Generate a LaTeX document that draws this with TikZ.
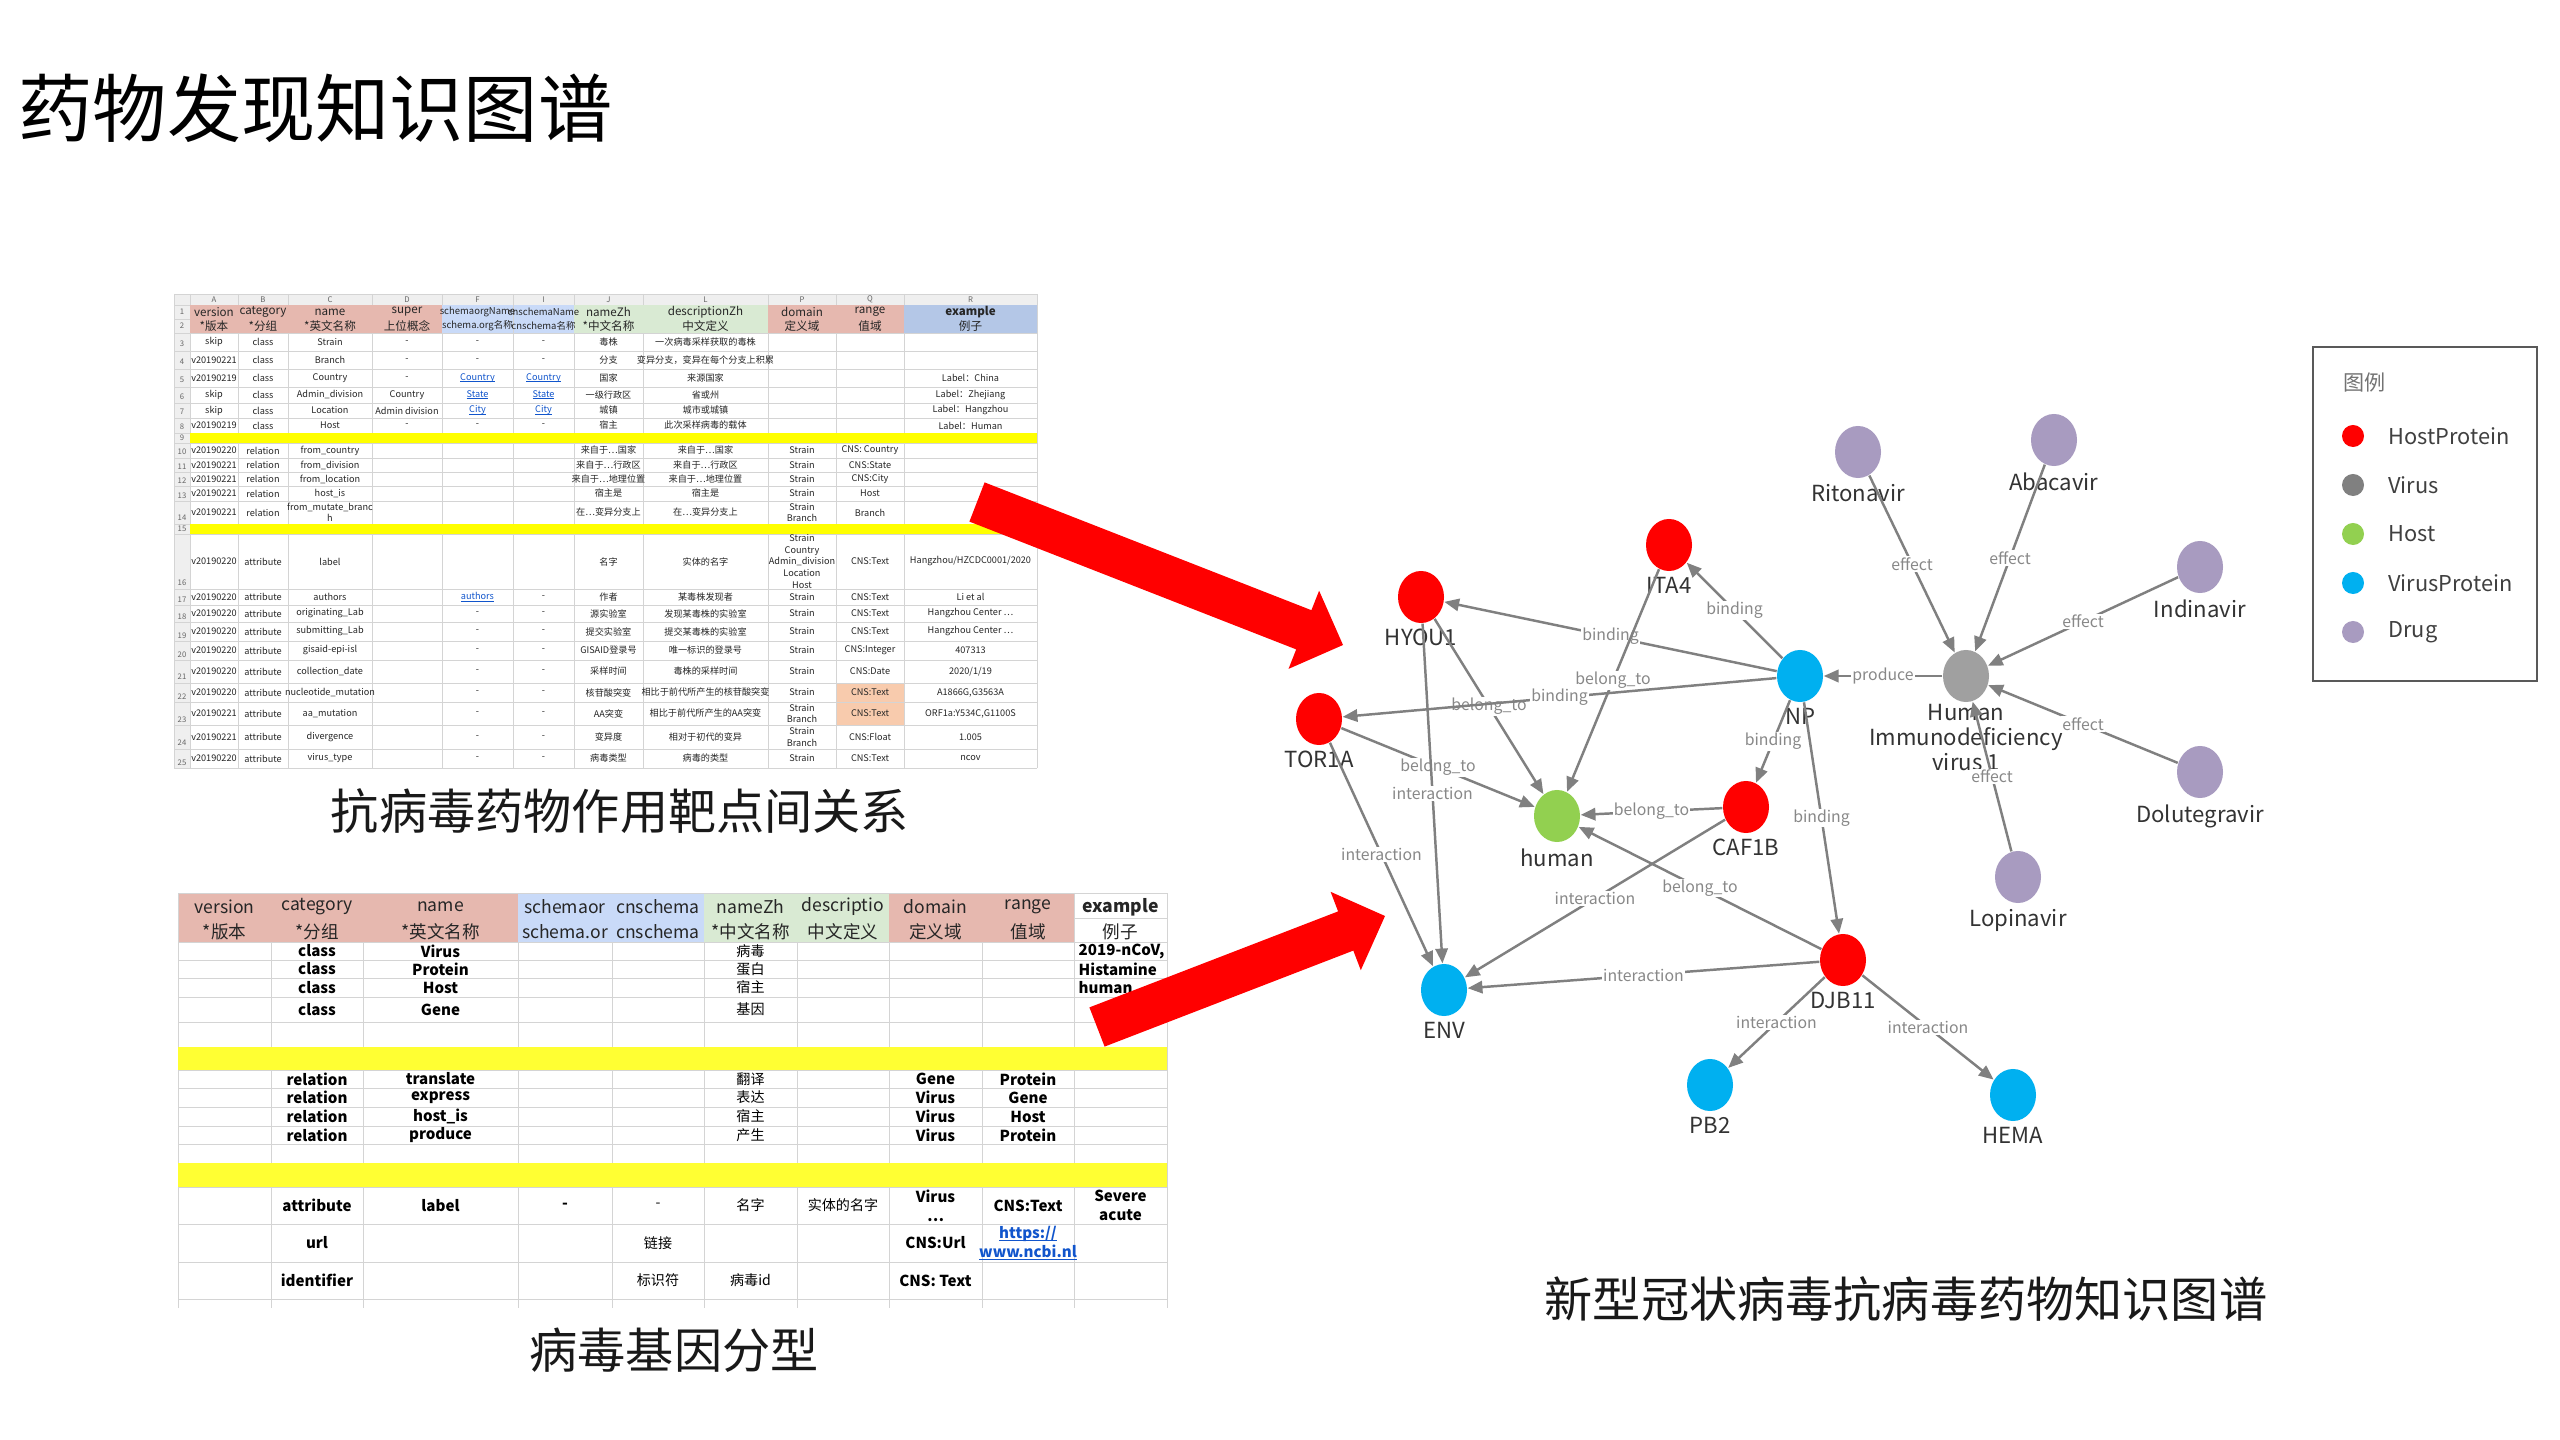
\documentclass[tikz,border=0pt]{standalone}
\usepackage{fontspec}
\setmainfont{Noto Sans CJK SC}
\usepackage{tikz}
\usetikzlibrary{arrows.meta,positioning,shapes.geometric}
\definecolor{hostprot}{RGB}{255,0,0}
\definecolor{virusgray}{RGB}{160,160,160}
\definecolor{virusdot}{RGB}{128,128,128}
\definecolor{hostgreen}{RGB}{146,208,80}
\definecolor{virprot}{RGB}{0,176,240}
\definecolor{drugpurple}{RGB}{168,155,192}
\definecolor{edgegray}{RGB}{128,128,128}
\definecolor{lblgray}{RGB}{136,136,136}
\definecolor{txtgray}{RGB}{51,51,51}
\definecolor{hdrpink}{RGB}{230,184,175}
\definecolor{hdrblue}{RGB}{201,218,248}
\definecolor{hdrgreen}{RGB}{217,234,211}
\definecolor{hdrblue2}{RGB}{180,199,231}
\definecolor{hiorange}{RGB}{248,203,173}
\definecolor{rowyellow}{RGB}{255,255,0}
\definecolor{rowyellow2}{RGB}{255,255,51}
\definecolor{gridgray}{RGB}{212,212,212}
\definecolor{sheetgray}{RGB}{239,239,239}
\definecolor{linkblue}{RGB}{17,85,204}
\definecolor{bigred}{RGB}{255,0,0}
\newcommand{\cellink}[1]{{\color{linkblue}\setbox0\hbox{#1}\rlap{\rule[-0.15em]{\wd0}{0.07em}}\box0}}
\tikzset{
  gnode/.style={ellipse,minimum width=0.46cm,minimum height=0.52cm,inner sep=0pt},
  hp/.style={gnode,fill=hostprot},
  vi/.style={gnode,fill=virusgray},
  ho/.style={gnode,fill=hostgreen},
  vp/.style={gnode,fill=virprot},
  dr/.style={gnode,fill=drugpurple},
  nlabel/.style={inner sep=0pt,align=center,text=txtgray,font=\fontsize{6.3pt}{7.1pt}\selectfont},
  rel/.style={draw=edgegray,line width=0.7pt,-{Triangle[length=4.2pt,width=3.5pt]}},
  rlabel/.style={midway,fill=white,inner sep=0.3pt,text=lblgray,font=\fontsize{4.5pt}{5pt}\selectfont},
  gridline/.style={draw=gridgray,line width=0.25pt},
  cell/.style={inner sep=0pt,align=center,text=black!85,font=\fontsize{2.6pt}{3.3pt}\selectfont},
  hcell/.style={cell,font=\fontsize{3.3pt}{3.6pt}\selectfont},
  idx/.style={inner sep=0pt,text=black!60,font=\fontsize{2.2pt}{2.5pt}\selectfont},
  bcell/.style={inner sep=0pt,align=center,text=black,font=\fontsize{4.3pt}{5.4pt}\selectfont\bfseries},
  zcell/.style={bcell,font=\fontsize{4pt}{5pt}\selectfont},
  bhcell/.style={inner sep=0pt,text=black!85,font=\fontsize{5pt}{6pt}\selectfont},
  caption/.style={inner sep=0pt,text=black!90,font=\fontsize{13.7pt}{16pt}\selectfont},
  legendframe/.style={draw=black!65,line width=0.6pt},
  legenddot/.style={circle,minimum size=0.22cm,inner sep=0pt},
  legendtext/.style={inner sep=0pt,text=black!75,font=\fontsize{6.2pt}{7pt}\selectfont},
}

\begin{document}
\begin{tikzpicture}[x=0.01cm,y=-0.01cm,every label/.style={nlabel},label distance=0.05cm]
  \useasboundingbox (0,0) rectangle (2560,1440);
  \fill[white] (0,0) rectangle (2560,1440);

  \node[anchor=west,inner sep=0pt,font=\fontsize{21.1pt}{24pt}\selectfont] (title) at (18,108) {药物发现知识图谱};

  % --- strain sheet
  \fill[hiorange] (836,683) rectangle (904,725);
  \fill[sheetgray] (174,294) rectangle (1037,305);
  \fill[sheetgray] (174,305) rectangle (190,768);
  \foreach \y in {294,305,333,351,369,387,403,418,433,443,458,472,486,501,524,534,589,605,622,641,660,683,702,725,749,768}
    \draw[gridline] (174,\y) -- (1037,\y);
  \draw[gridline] (174,319) -- (190,319);
  \foreach \x in {174,190,238,288,372,442,513,574,643,768,836,904,1037}
    \draw[gridline] (\x,294) -- (\x,768);
  \fill[hdrpink] (190,305) rectangle (442,333);
  \fill[hdrblue] (442,305) rectangle (574,333);
  \draw[gridline] (513,305) -- (513,333);
  \fill[hdrgreen] (574,305) rectangle (768,333);
  \fill[hdrpink] (768,305) rectangle (904,333);
  \fill[hdrblue2] (904,305) rectangle (1037,333);
  \fill[rowyellow] (190,433) rectangle (1037,443);
  \fill[rowyellow] (190,524) rectangle (1037,534);
  \foreach \x/\col in {214/A,263/B,330/C,407/D,477.5/F,543.5/I,608.5/J,705.5/L,802/P,870/Q,970.5/R}
    \node[idx] (col\col) at (\x,299.5) {\col};
  \foreach \y [count=\rn] in {312,326,344,362,380,397,412,427,438,452,467,481,496,518,529,583,600,617,636,655,677,697,720,743,763}
    \node[idx] (row\rn) at (182,\y) {\rn};
  \foreach \x/\top/\bot [count=\kk] in {214/version/*版本, 263/category/*分组, 330/name/*英文名称, 407/super/上位概念,
      477.5/{\fontsize{2.7pt}{3pt}\selectfont schemaorgName}/{\fontsize{2.7pt}{3pt}\selectfont schema.org名称},
      543.5/{\fontsize{2.7pt}{3pt}\selectfont cnschemaName}/{\fontsize{2.7pt}{3pt}\selectfont cnschema名称},
      608.5/nameZh/*中文名称,
      705.5/descriptionZh/中文定义, 802/domain/定义域, 870/range/值域, 970.5/{\bfseries example}/例子}{
    \node[hcell] (th\kk) at (\x,312) {\top};
    \node[hcell] (tz\kk) at (\x,326) {\bot};
  }
  \foreach \sY/\sA/\sB/\sC/\sD/\sF/\sI/\sJ/\sL/\sP/\sQ/\sR [count=\rw] in {
      342/skip/class/Strain/-/-/-/毒株/一次病毒采样获取的毒株///,
      360/v20190221/class/Branch/-/-/-/分支/变异分支，变异在每个分支上积累///,
      378/v20190219/class/Country/-/\cellink{Country}/\cellink{Country}/国家/来源国家///Label：China,
      395/skip/class/Admin\_division/Country/\cellink{State}/\cellink{State}/一级行政区/省或州///Label：Zhejiang,
      410.5/skip/class/Location/Admin division/\cellink{City}/\cellink{City}/城镇/城市或城镇///Label：Hangzhou,
      425.5/v20190219/class/Host/-/-/-/宿主/此次采样病毒的载体///Label：Human,
      450.5/v20190220/relation/from\_country////来自于…国家/来自于…国家/Strain/CNS: Country/,
      465/v20190221/relation/from\_division////来自于…行政区/来自于…行政区/Strain/CNS:State/,
      479/v20190221/relation/from\_location////来自于…地理位置/来自于…地理位置/Strain/CNS:City/,
      493.5/v20190221/relation/host\_is////宿主是/宿主是/Strain/Host/,
      512.5/v20190221/relation/from\_mutate\_branc\\h////在…变异分支上/在…变异分支上/Strain\\Branch/Branch/,
      561.5/v20190220/attribute/label////名字/实体的名字/Strain\\Country\\Admin\_division\\Location\\Host/CNS:Text/Hangzhou{/}HZCDC0001{/}2020,
      597/v20190220/attribute/authors//\cellink{authors}/-/作者/某毒株发现者/Strain/CNS:Text/Li et al,
      613.5/v20190220/attribute/originating\_Lab//-/-/源实验室/发现某毒株的实验室/Strain/CNS:Text/Hangzhou Center …,
      631.5/v20190220/attribute/submitting\_Lab//-/-/提交实验室/提交某毒株的实验室/Strain/CNS:Text/Hangzhou Center …,
      650.5/v20190220/attribute/gisaid-epi-isl//-/-/GISAID登录号/唯一标识的登录号/Strain/CNS:Integer/407313,
      671.5/v20190220/attribute/collection\_date//-/-/采样时间/毒株的采样时间/Strain/CNS:Date/2020{/}1{/}19,
      692.5/v20190220/attribute/nucleotide\_mutation//-/-/核苷酸突变/相比于前代所产生的核苷酸突变/Strain/CNS:Text/A1866G{,}G3563A,
      713.5/v20190221/attribute/aa\_mutation//-/-/AA突变/相比于前代所产生的AA突变/Strain\\Branch/CNS:Text/ORF1a:Y534C{,}G1100S,
      737/v20190221/attribute/divergence//-/-/变异度/相对于初代的变异/Strain\\Branch/CNS:Float/1.005,
      758.5/v20190220/attribute/virus\_type//-/-/病毒类型/病毒的类型/Strain/CNS:Text/ncov}{
    \node[cell] (tA\rw) at (214,\sY) {\sA};
    \node[cell] (tB\rw) at (263,\sY) {\sB};
    \node[cell] (tC\rw) at (330,\sY) {\sC};
    \node[cell] (tD\rw) at (407,\sY) {\sD};
    \node[cell] (tF\rw) at (477.5,\sY) {\sF};
    \node[cell] (tI\rw) at (543.5,\sY) {\sI};
    \node[cell] (tJ\rw) at (608.5,\sY) {\sJ};
    \node[cell] (tL\rw) at (705.5,\sY) {\sL};
    \node[cell] (tP\rw) at (802,\sY) {\sP};
    \node[cell] (tQ\rw) at (870,\sY) {\sQ};
    \node[cell] (tR\rw) at (970.5,\sY) {\sR};
  }
  \node[caption] (cap1) at (620,811) {抗病毒药物作用靶点间关系};

  % --- gene sheet
  \fill[hdrpink] (178,893) rectangle (518,942);
  \fill[hdrblue] (518,893) rectangle (704,942);
  \fill[hdrgreen] (704,893) rectangle (889,942);
  \fill[hdrpink] (889,893) rectangle (1074,942);
  \foreach \y in {942,960,978,997,1022,1047,1070,1088,1107,1126,1144,1163,1187,1224,1262,1299}
    \draw[gridline] (178,\y) -- (1167,\y);
  \foreach \x in {271,363,518,612,704,797,889,982,1074}
    \draw[gridline] (\x,942) -- (\x,1308);
  \draw[gridline] (178,1308) -- (178,893) -- (1167,893) -- (1167,1308);
  \draw[gridline] (1074,893) -- (1074,942);
  \draw[gridline] (1074,918) -- (1167,918);
  \fill[rowyellow2] (178,1047) rectangle (1167,1070);
  \fill[rowyellow2] (178,1163) rectangle (1167,1187);
  \foreach \x/\top/\bot [count=\kk] in {224.5/version/*版本, 317/category/*分组, 440.5/name/*英文名称,
      565/schemaor/schema.or, 658/cnschema/cnschema, 750.5/nameZh/*中文名称, 843/descriptio/中文定义,
      935.5/domain/定义域, 1028/range/值域, 1120.5/{\bfseries example}/例子}{
    \node[bhcell] (gh\kk) at (\x,907) {\top};
    \node[bhcell] (gz\kk) at (\x,932) {\bot};
  }
  \foreach \gY/\gB/\gC/\gS/\gN/\gZ/\gD/\gO/\gG/\gE [count=\rw] in {
      951/class/Virus///病毒////,
      969/class/Protein///蛋白////,
      987.5/class/Host///宿主////,
      1009.5/class/Gene///基因////,
      1079/relation/translate///翻译//Gene/Protein/,
      1097.5/relation/express///表达//Virus/Gene/,
      1116.5/relation/host\_is///宿主//Virus/Host/,
      1135/relation/produce///产生//Virus/Protein/,
      1205.5/attribute/label/-/-/名字/实体的名字/Virus\\\ldots/CNS:Text/Severe\\acute,
      1243/url///链接///CNS:Url/\cellink{https:{/}{/}}\\\cellink{www.ncbi.nl}/,
      1280.5/identifier///标识符/病毒id//CNS: Text//}{
    \node[bcell] (gB\rw) at (317,\gY) {\gB};
    \node[bcell] (gC\rw) at (440.5,\gY) {\gC};
    \node[bcell] (gS\rw) at (565,\gY) {\gS};
    \node[zcell] (gN\rw) at (658,\gY) {\gN};
    \node[zcell] (gZ\rw) at (750.5,\gY) {\gZ};
    \node[zcell] (gD\rw) at (843,\gY) {\gD};
    \node[bcell] (gO\rw) at (935.5,\gY) {\gO};
    \node[bcell] (gG\rw) at (1028,\gY) {\gG};
    \node[bcell] (gE\rw) at (1120.5,\gY) {\gE};
  }
  \foreach \y/\txt [count=\kk] in {951/2019-nCoV{,}, 969/Histamine, 987.5/human}
    \node[bcell,anchor=west] (gx\kk) at (1078,\y) {\txt};
  \node[caption] (cap2) at (674,1350) {病毒基因分型};

  % --- red arrows
  \fill[bigred] (984.6,482.4) -- (1311.4,610.2) -- (1319.1,590.7) -- (1343,645)
    -- (1288.5,668.9) -- (1296.2,649.4) -- (969.4,521.6) -- cycle;
  \fill[bigred] (1089.4,1007.4) -- (1338.1,911.4) -- (1330.6,891.8) -- (1385,916)
    -- (1360.8,970.2) -- (1353.3,950.6) -- (1104.6,1046.6) -- cycle;

  % --- knowledge graph
  \node[dr,label=below:Ritonavir] (rito) at (1858,452) {};
  \node[dr,label=below:Abacavir] (abac) at (2054,440) {};
  \node[dr,label=below:Indinavir] (indi) at (2200,567) {};
  \node[dr,label=below:Dolutegravir] (dolu) at (2200,772) {};
  \node[dr,label=below:Lopinavir] (lopi) at (2018,877) {};
  \node[vi,label={[label distance=0.01cm]below:Human\\Immunodeficiency\\virus 1}] (hiv) at (1966,676) {};
  \node[vp,label=below:NP] (np) at (1800,676) {};
  \node[hp,label=below:ITA4] (ita4) at (1669,545) {};
  \node[hp,label=below:HYOU1] (hyou1) at (1421,597) {};
  \node[hp,label=below:TOR1A] (tor1a) at (1319,719) {};
  \node[ho,label=below:human] (human) at (1557,816) {};
  \node[hp,label=below:CAF1B] (caf1b) at (1746,807) {};
  \node[hp,label=below:DJB11] (djb11) at (1843,960) {};
  \node[vp,label=below:ENV] (env) at (1444,990) {};
  \node[vp,label=below:PB2] (pb2) at (1710,1085) {};
  \node[vp,label=below:HEMA] (hema) at (2013,1095) {};
  \foreach \src/\dst/\rl in {rito/hiv/effect, abac/hiv/effect, indi/hiv/effect, dolu/hiv/effect, lopi/hiv/effect,
      hiv/np/produce, np/ita4/binding, np/hyou1/binding, np/caf1b/binding, np/djb11/binding,
      ita4/human/belong\_to, hyou1/human/belong\_to, tor1a/human/belong\_to, caf1b/human/belong\_to,
      djb11/human/belong\_to, np/tor1a/binding, hyou1/env/interaction, tor1a/env/interaction,
      caf1b/env/interaction, djb11/env/interaction, djb11/pb2/interaction, djb11/hema/interaction}
    \draw[rel] (\src) -- node[rlabel] (l-\src-\dst) {\rl} (\dst);
  \node[caption] (cap3) at (1906,1299) {新型冠状病毒抗病毒药物知识图谱};

  % --- legend
  \draw[legendframe] (2313,347) rectangle (2537,681);
  \node[legendtext,anchor=west,text=black!55,font=\fontsize{6pt}{7pt}\selectfont] (lgtitle) at (2343,383) {图例};
  \foreach \col/\txt [count=\i] in {hostprot/HostProtein,virusdot/Virus,hostgreen/Host,virprot/VirusProtein,drugpurple/Drug}{
    \pgfmathsetmacro{\y}{436+(\i-1)*49}
    \node[legenddot,fill=\col] (ld\i) at (2353,\y) {};
    \node[legendtext,right=0.23cm of ld\i] (lt\i) {\txt};
  }
\end{tikzpicture}
\end{document}
